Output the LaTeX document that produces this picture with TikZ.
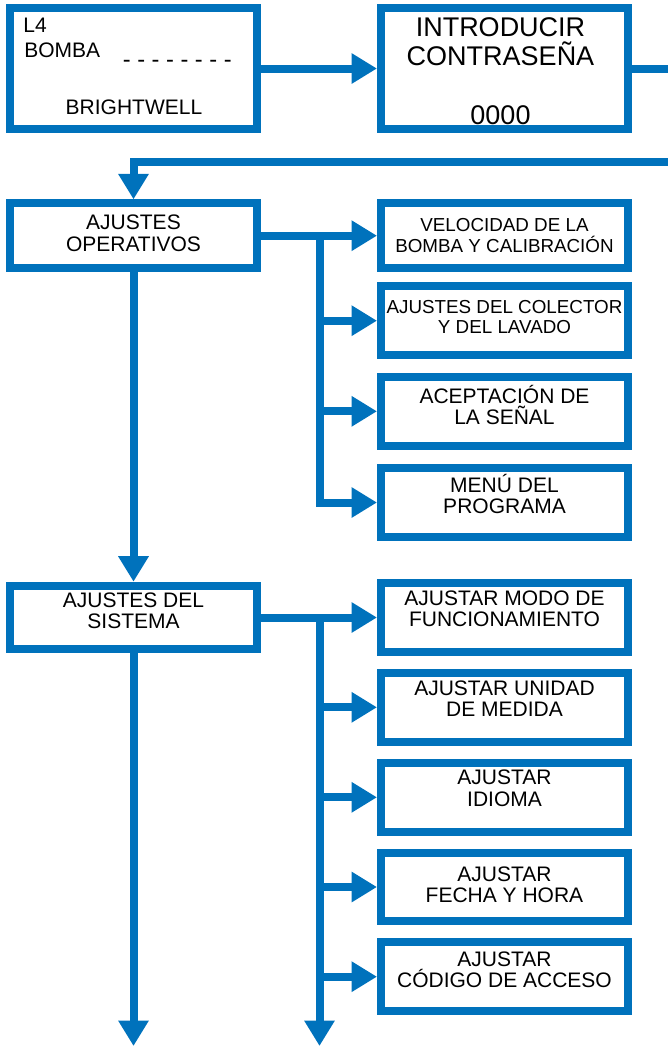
\documentclass[tikz,border=0pt]{standalone}
\usepackage{fontspec}
\setmainfont{Liberation Sans}
\usetikzlibrary{arrows.meta}
\definecolor{boxblue}{RGB}{0,114,188}
\newcommand{\menufont}{\fontsize{10.5}{10.65}\selectfont}
\newcommand{\smallmenufont}{\fontsize{9.4}{10.25}\selectfont}
\newcommand{\bigmenufont}{\fontsize{13.5}{14.15}\selectfont}
\newcommand{\lcdfont}{\fontsize{10.5}{12}\selectfont}
% invisible depth, lifts the text in its box
\newcommand{\padlow}[1]{\rule[-#1pt]{0pt}{#1pt}}

\begin{document}
\begin{tikzpicture}[x=0.5pt,y=-0.5pt,
    menubox/.style={draw=boxblue,line width=4pt,minimum width=123.5pt,
        inner sep=0pt,align=center,font=\menufont},
    flow/.style={draw=boxblue,line width=4pt,
        -{Triangle[length=12.75pt,width=14.5pt]}},
    lcdtext/.style={inner sep=0pt,anchor=base west,font=\lcdfont}]
    \useasboundingbox (0,0) rectangle (668,1046);
    \clip (0,0) rectangle (668,1046);

    %% Display and password
    \node[menubox,minimum height=60.5pt] (lcd) at (133.5,68.5) {};
    \node[lcdtext] (lcdline) at (23,32.3) {L4};
    \node[lcdtext] (lcdpump) at (24,57.7) {BOMBA};
    \node[lcdtext,font=\fontsize{11.8}{12}\selectfont] (lcddash)
        at (122.5,67.4) {- - - - - - - -};
    \node[lcdtext,anchor=base] (lcdbrand) at (134,114) {BRIGHTWELL};
    \node[menubox,minimum height=60.5pt] (pass) at (504.5,68.5) {};
    \node[inner sep=0pt,anchor=north,align=center,font=\bigmenufont]
        (passtitle) at (500.5,17.7) {INTRODUCIR\\CONTRASEÑA};
    \node[inner sep=0pt,anchor=base,font=\bigmenufont]
        (passcode) at (500.5,124) {0000};
    \draw[flow] (lcd) -- (pass);

    %% Operating settings
    \node[menubox,minimum height=32.35pt] (ops) at (133.5,235.7)
        {AJUSTES\\OPERATIVOS\padlow{2.4}};
    \node[menubox,minimum height=32.35pt,font=\smallmenufont] (velo)
        at (504.5,235.7) {VELOCIDAD DE LA\\BOMBA Y CALIBRACIÓN};
    \node[menubox,minimum height=34.65pt,font=\smallmenufont] (colec)
        at (504.5,320.7) {AJUSTES DEL COLECTOR\\Y DEL LAVADO\padlow{3.7}};
    \node[menubox,minimum height=34.65pt] (acept) at (504.5,411.3)
        {ACEPTACIÓN DE\\LA SEÑAL\padlow{6.4}};
    \node[menubox,minimum height=34.5pt] (menu) at (504.5,502.5)
        {MENÚ DEL\\PROGRAMA\padlow{8.6}};
    \coordinate (loopcorner) at (700,161.5);
    \draw[flow] (pass.east) -| (loopcorner) -| (ops.north);
    \coordinate (opsfork) at (319.5,235.7);
    \draw[flow] (ops) -- (velo);
    \draw[flow] (opsfork |- colec.west) -- (colec.west);
    \draw[flow] (opsfork |- acept.west) -- (acept.west);
    \draw[flow] (opsfork) |- (menu.west);

    %% System settings
    \node[menubox,minimum height=31.8pt] (sys) at (133.5,617.5)
        {AJUSTES DEL\\SISTEMA\padlow{6.5}};
    \node[menubox,minimum height=34.35pt] (mode) at (504.5,617.5)
        {AJUSTAR MODO DE\\FUNCIONAMIENTO\padlow{9}};
    \node[menubox,minimum height=34.35pt] (unit) at (504.5,707.3)
        {AJUSTAR UNIDAD\\DE MEDIDA\padlow{8.5}};
    \node[menubox,minimum height=34.35pt] (lang) at (504.5,797.3)
        {AJUSTAR\\IDIOMA\padlow{9}};
    \node[menubox,minimum height=34.35pt] (clock) at (504.5,887)
        {AJUSTAR\\FECHA Y HORA\padlow{2.3}};
    \node[menubox,minimum height=34.35pt] (code) at (504.5,976.7)
        {AJUSTAR\\CÓDIGO DE ACCESO\padlow{7}};
    \draw[flow] (ops) -- (sys);
    \coordinate (sysend) at (133.5,1046);
    \draw[flow] (sys) -- (sysend);
    \coordinate (sysfork) at (319.5,617.5);
    \coordinate (forkend) at (319.5,1046);
    \draw[flow] (sys) -- (mode);
    \draw[flow] (sysfork) -- (forkend);
    \draw[flow] (sysfork |- unit.west) -- (unit.west);
    \draw[flow] (sysfork |- lang.west) -- (lang.west);
    \draw[flow] (sysfork |- clock.west) -- (clock.west);
    \draw[flow] (sysfork |- code.west) -- (code.west);
\end{tikzpicture}
\end{document}
